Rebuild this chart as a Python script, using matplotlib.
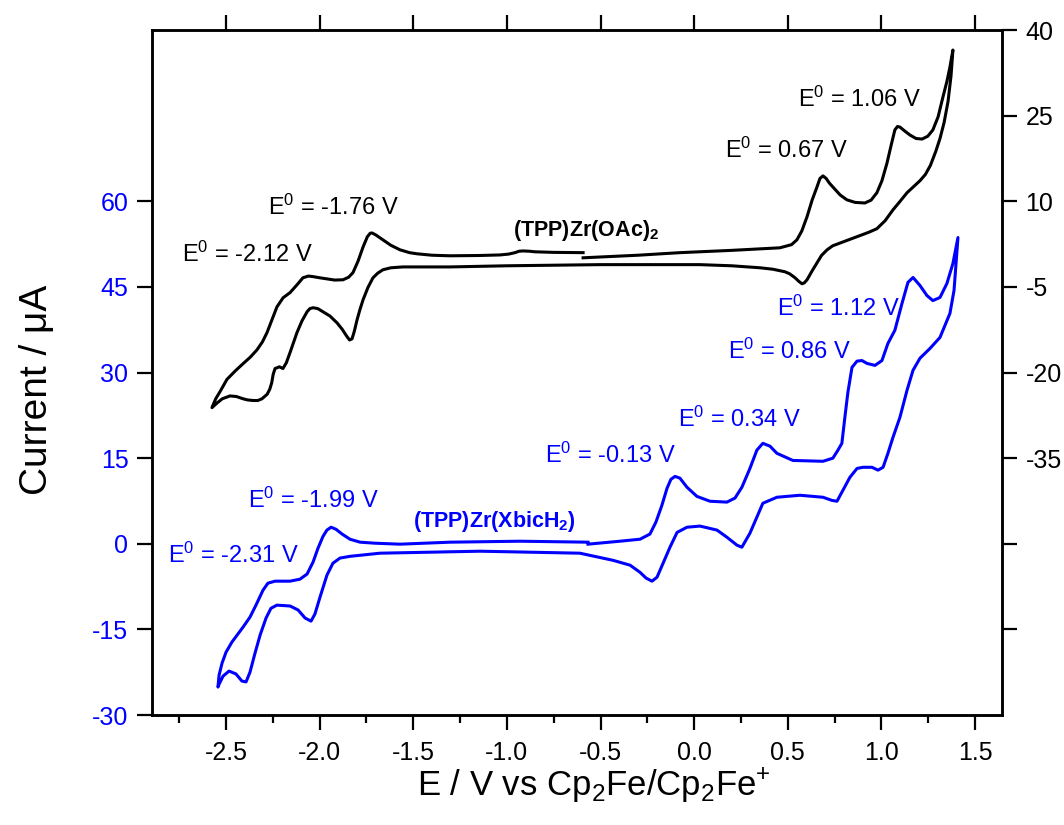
import numpy as np
import matplotlib
matplotlib.use("Agg")
import matplotlib.pyplot as plt
from matplotlib.ticker import MultipleLocator

plt.rcParams["font.family"] = ["Liberation Sans", "DejaVu Sans"]
plt.rcParams["mathtext.fontset"] = "custom"
plt.rcParams["mathtext.rm"] = "Liberation Sans"
plt.rcParams["mathtext.default"] = "regular"
plt.rcParams["axes.unicode_minus"] = False

# (TPP)Zr(OAc)2 - black trace, right axis (uA), in scan order
oac_E = [-0.593, -0.300, -0.076, 0.200, 0.458, 0.520, 0.549, 0.575, 0.603, 0.630,
         0.656, 0.672, 0.688, 0.705, 0.722, 0.741, 0.780, 0.816, 0.860, 0.912,
         0.945, 0.976, 1.003, 1.030, 1.052, 1.072, 1.086, 1.099, 1.125, 1.153,
         1.185, 1.217, 1.248, 1.275, 1.303, 1.329, 1.350, 1.366, 1.382,
         1.372, 1.356, 1.335, 1.313, 1.290, 1.262, 1.235, 1.206, 1.170, 1.137,
         1.100, 1.062, 1.020, 0.976, 0.935, 0.886, 0.830, 0.779, 0.740, 0.710,
         0.680, 0.656, 0.630, 0.603, 0.588, 0.576, 0.558, 0.539, 0.510, 0.485,
         0.420, 0.352, 0.200, 0.031, -0.503, -1.000, -1.304, -1.555, -1.620, -1.662,
         -1.690, -1.715, -1.742, -1.768, -1.785, -1.800, -1.815, -1.827, -1.840, -1.854,
         -1.880, -1.907, -1.945, -1.982, -2.010, -2.035, -2.052, -2.067, -2.095, -2.121,
         -2.140, -2.158, -2.178, -2.196, -2.215, -2.238, -2.248, -2.256, -2.266, -2.280,
         -2.308, -2.330, -2.356, -2.385, -2.409, -2.445, -2.479, -2.520, -2.550, -2.575,
         -2.555, -2.532, -2.495, -2.450, -2.409, -2.370, -2.334, -2.305, -2.281, -2.255,
         -2.228, -2.195, -2.158, -2.120, -2.089, -2.060, -2.035, -2.000, -1.961, -1.920,
         -1.875, -1.845, -1.822, -1.795, -1.768, -1.745, -1.730, -1.720, -1.700, -1.662,
         -1.620, -1.571, -1.520, -1.480, -1.400, -1.304, -1.150, -1.037, -0.990, -0.957,
         -0.935, -0.914, -0.880, -0.850, -0.750, -0.593]
oac_I = [0.1, 0.55, 1.0, 1.4, 1.85, 2.4, 3.25, 4.8, 7.3, 10.2,
         12.5, 14.0, 14.45, 14.0, 13.2, 12.5, 11.1, 10.25, 9.8, 9.7,
         10.2, 11.5, 13.6, 16.7, 19.8, 22.5, 23.1, 23.0, 22.3, 21.6,
         21.0, 20.9, 21.4, 22.5, 24.8, 28.3, 31.0, 33.5, 36.5,
         32.0, 27.5, 23.8, 21.0, 18.7, 16.3, 14.7, 13.6, 12.5, 11.5,
         10.0, 8.5, 6.6, 5.2, 4.6, 4.0, 3.3, 2.7, 2.2, 1.5,
         0.5, -0.8, -2.2, -3.75, -4.3, -4.45, -4.0, -3.4, -2.7, -2.35,
         -1.9, -1.65, -1.3, -1.1, -1.1, -1.3, -1.5, -1.5, -1.65, -2.0,
         -2.6, -3.4, -5.1, -7.25, -9.0, -10.75, -12.8, -14.1, -14.3, -13.7,
         -12.4, -11.3, -10.1, -9.35, -8.8, -8.65, -8.8, -9.35, -11.0, -13.0,
         -14.8, -16.5, -18.3, -19.3, -19.0, -19.3, -20.3, -21.8, -22.9, -23.8,
         -24.6, -24.9, -24.9, -24.8, -24.6, -24.2, -24.1, -24.6, -25.4, -26.15,
         -24.6, -23.35, -21.2, -19.7, -18.45, -17.3, -16.0, -14.6, -13.0, -10.8,
         -8.5, -6.9, -6.0, -4.6, -3.4, -3.1, -3.2, -3.4, -3.6, -3.8,
         -3.75, -3.3, -2.5, -0.5, 2.0, 3.8, 4.4, 4.45, 4.1, 3.25,
         2.3, 1.5, 1.0, 0.8, 0.55, 0.45, 0.5, 0.6, 0.75, 1.0,
         1.25, 1.3, 1.25, 1.15, 1.05, 1.0]

# (TPP)Zr(XbicH2) - blue trace, left axis (uA), in scan order
xbic_E = [-0.567, -0.396, -0.289, -0.236, -0.204, -0.172, -0.145, -0.124, -0.102, -0.076,
          -0.038, 0.015, 0.085, 0.175, 0.218, 0.255, 0.298, 0.335, 0.367, 0.405,
          0.442, 0.527, 0.688, 0.741, 0.768, 0.789, 0.805, 0.821, 0.843, 0.870,
          0.896, 0.923, 0.966, 1.003, 1.035, 1.072, 1.110, 1.142, 1.169, 1.206,
          1.243, 1.275, 1.313, 1.350, 1.382, 1.409,
          1.388, 1.366, 1.313, 1.259, 1.206, 1.169, 1.137, 1.099, 1.062, 1.035,
          1.009, 0.982, 0.950, 0.902, 0.870, 0.832, 0.795, 0.763, 0.736, 0.688,
          0.565, 0.442, 0.367, 0.335, 0.298, 0.255, 0.229, 0.175, 0.122, 0.031,
          -0.038, -0.091, -0.129, -0.166, -0.198, -0.225, -0.257, -0.289, -0.342, -0.433,
          -0.610, -1.143, -1.678, -1.838, -1.891, -1.929, -1.961, -1.998, -2.025, -2.046,
          -2.078, -2.115, -2.158, -2.228, -2.260, -2.286, -2.318, -2.345, -2.372, -2.393,
          -2.415, -2.447, -2.484, -2.516, -2.537, -2.543,
          -2.537, -2.521, -2.500, -2.468, -2.409, -2.372, -2.340, -2.302, -2.276, -2.238,
          -2.158, -2.105, -2.067, -2.035, -2.009, -1.982, -1.961, -1.939, -1.913, -1.880,
          -1.838, -1.784, -1.704, -1.571, -1.304, -0.930, -0.567]
xbic_I = [-0.07, 0.45, 0.8, 1.7, 3.8, 6.75, 9.7, 11.3, 11.8, 11.5,
          9.9, 8.3, 7.45, 7.3, 8.0, 9.9, 13.2, 16.4, 17.6, 17.1,
          15.85, 14.6, 14.45, 15.0, 16.4, 17.6, 22.15, 26.5, 30.9, 32.0,
          32.1, 31.6, 31.25, 32.1, 35.1, 37.4, 42.1, 45.8, 46.65, 45.25,
          43.5, 42.6, 43.15, 45.6, 49.1, 53.65,
          44.4, 40.35, 36.15, 34.2, 32.5, 30.4, 26.9, 22.15, 18.65, 15.85,
          13.4, 12.9, 13.4, 13.4, 13.2, 11.65, 9.4, 7.45, 7.6, 8.15,
          8.5, 8.15, 7.1, 4.65, 1.85, -0.6, -0.25, 1.15, 2.4, 3.1,
          2.9, 2.0, -0.6, -3.4, -5.85, -6.55, -6.0, -5.0, -3.75, -2.9,
          -1.65, -1.3, -1.65, -2.2, -2.5, -3.4, -5.5, -9.35, -12.3, -13.55,
          -13.0, -11.6, -10.9, -10.75, -11.3, -13.0, -16.0, -19.15, -22.5, -24.2,
          -24.05, -22.8, -22.3, -23.2, -24.6, -25.1,
          -23.0, -20.9, -19.0, -17.2, -14.6, -12.85, -10.75, -8.1, -6.9, -6.55,
          -6.55, -6.2, -5.3, -3.2, -0.8, 1.3, 2.4, 2.9, 2.55, 1.7,
          0.8, 0.28, 0.1, -0.07, 0.28, 0.45, 0.28]

x_ticks = [-2.5, -2.0, -1.5, -1.0, -0.5, 0.0, 0.5, 1.0, 1.5]
left_ticks = [-30, -15, 0, 15, 30, 45, 60]
right_ticks = [40, 25, 10, -5, -20, -35, -50, -65]
right_labels = ["40", "25", "10", "-5", "-20", "-35", "", ""]

# annotations: text, x, y (left-axis units)
oac_notes = [("E$^{0}$ = -2.12 V", -2.735, 49.3),
             ("E$^{0}$ = -1.76 V", -2.276, 57.7),
             ("E$^{0}$ = 0.67 V", 0.165, 67.65),
             ("E$^{0}$ = 1.06 V", 0.555, 76.6)]
xbic_notes = [("E$^{0}$ = -2.31 V", -2.81, -3.4),
              ("E$^{0}$ = -1.99 V", -2.383, 6.2),
              ("E$^{0}$ = -0.13 V", -0.796, 14.1),
              ("E$^{0}$ = 0.34 V", -0.085, 20.4),
              ("E$^{0}$ = 0.86 V", 0.181, 32.3),
              ("E$^{0}$ = 1.12 V", 0.442, 40.0)]

blue = "#0000FF"

fig = plt.figure(figsize=(10.64, 8.25), dpi=100)
ax = fig.add_axes([0.1429, 0.1333, 0.7988, 0.8303])
ax2 = ax.twinx()

ax.plot(xbic_E, xbic_I, color=blue, lw=2.2, solid_joinstyle="round")
ax2.plot(oac_E, oac_I, color="black", lw=2.2, solid_joinstyle="round")

ax.set_xlim(-2.895, 1.644)
ax.set_ylim(-30, 90)
ax2.set_ylim(-80, 40)

ax.set_xticks(x_ticks)
ax.set_xticklabels([f"{v:.1f}" for v in x_ticks])
ax.xaxis.set_minor_locator(MultipleLocator(0.25))
ax.set_yticks(left_ticks)
ax2.set_yticks(right_ticks)
ax2.set_yticklabels(right_labels)

ax.tick_params(axis="x", which="major", direction="out", length=11, width=1.6,
               labelsize=18, top=True, pad=8)
ax.tick_params(axis="x", which="minor", direction="out", length=6, width=1.6,
               top=False)
ax.tick_params(axis="y", direction="out", length=11, width=1.6, labelsize=18,
               labelcolor=blue, pad=6)
ax2.tick_params(axis="y", direction="out", length=11, width=1.6, labelsize=18,
                pad=6)
for a in (ax, ax2):
    for s in a.spines.values():
        s.set_linewidth(1.8)

ax.set_xlabel("E / V vs Cp$_2$Fe/Cp$_2$Fe$^{+}$", fontsize=25)
ax.xaxis.set_label_coords(0.52, -0.075)
ax.set_ylabel("Current / μA", fontsize=28)
ax.yaxis.set_label_coords(-0.114, 0.474)

for t, x, y in oac_notes:
    ax.text(x, y, t, fontsize=17, color="black", va="baseline", ha="left")
for t, x, y in xbic_notes:
    ax.text(x, y, t, fontsize=17, color=blue, va="baseline", ha="left")

ax.text(-0.967, 54.0, "(TPP)Zr(OAc)$_2$", fontsize=15.5, fontweight="bold",
        color="black", va="baseline", ha="left")
ax.text(-1.501, 2.9, "(TPP)Zr(XbicH$_2$)", fontsize=15.5, fontweight="bold",
        color=blue, va="baseline", ha="left")

fig.savefig("out.png", dpi=100)
